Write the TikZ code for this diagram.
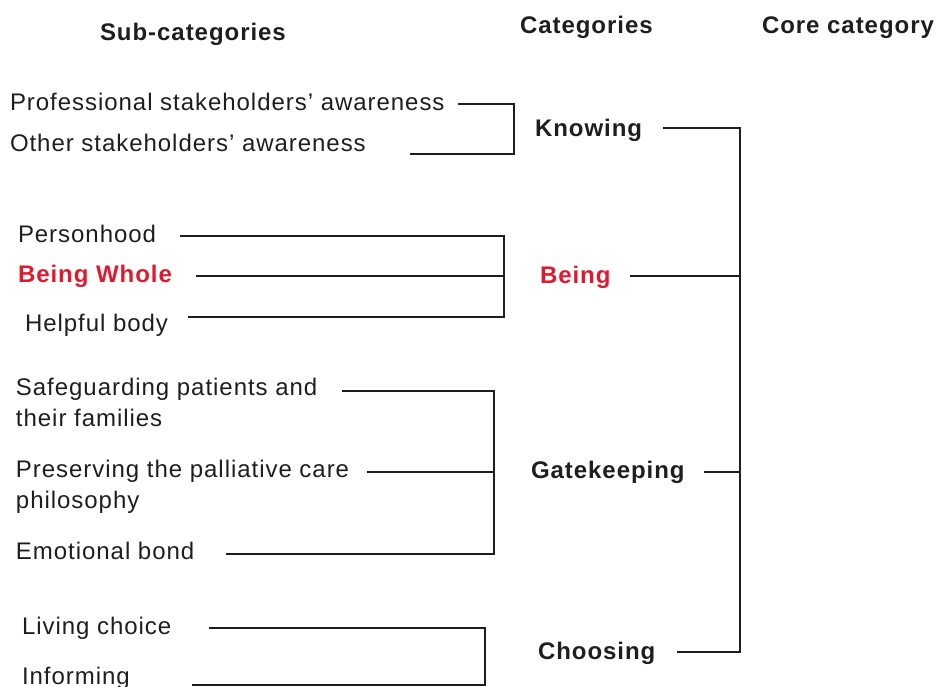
\documentclass[tikz,border=0pt]{standalone}
\usepackage{fontspec}
\setmainfont{Liberation Sans}[LetterSpace=4]
\definecolor{ink}{HTML}{1E1E1E}
\definecolor{redt}{HTML}{E0192F}
\begin{document}
\begin{tikzpicture}[x=1pt,y=-1pt,
  every node/.style={inner sep=0pt,outer sep=0pt,anchor=base west,text=ink,font=\fontsize{24}{31}\selectfont},
  head/.style={font=\fontsize{24}{31}\selectfont\bfseries},
  cat/.style={font=\fontsize{24}{31}\selectfont\bfseries},
  redcat/.style={text=redt},
  multi/.style={align=left},
  conn/.style={draw=ink,line width=1.1pt}]
\useasboundingbox (0,0) rectangle (936,686);
% headers
\node[head] (h1) at (100,40) {Sub-categories};
\node[head] (h2) at (520,33) {Categories};
\node[head] (h3) at (762,33) {Core category};
% sub-categories
\node (s1) at (10,110) {Professional stakeholders’ awareness};
\node (s2) at (10,151) {Other stakeholders’ awareness};
\node (s3) at (18,242) {Personhood};
\node[cat,redcat] (s4) at (18,282) {Being Whole};
\node (s5) at (25,331) {Helpful body};
\node[multi,anchor=north west] (s6) at (16,378) {Safeguarding patients and\\their families};
\node[multi,anchor=north west] (s7) at (16,460) {Preserving the palliative care\\philosophy};
\node (s8) at (16,559) {Emotional bond};
\node (s9) at (22,634) {Living choice};
\node (s10) at (22,684) {Informing};
% categories
\node[cat] (c1) at (535,136) {Knowing};
\node[cat,redcat] (c2) at (540,283) {Being};
\node[cat] (c3) at (531,478) {Gatekeeping};
\node[cat] (c4) at (538,659) {Choosing};
% connector coordinates
\coordinate (a1) at (458,104);
\coordinate (a2) at (410,154);
\coordinate (ka) at (514,0);
\coordinate (b1) at (180,236);
\coordinate (b2) at (196,276);
\coordinate (b3) at (188,317);
\coordinate (kb) at (504,0);
\coordinate (g1) at (342,391);
\coordinate (g2) at (367,472);
\coordinate (g3) at (226,554);
\coordinate (kg) at (494,0);
\coordinate (l1) at (209,628);
\coordinate (l2) at (192,685);
\coordinate (kl) at (485,0);
\coordinate (k1) at (663,128);
\coordinate (k2) at (630,276);
\coordinate (k3) at (704,472);
\coordinate (k4) at (677,652);
\coordinate (kc) at (740,0);
% brackets
\draw[conn] (a1) -- (a1 -| ka) -- (a2 -| ka) -- (a2);
\draw[conn] (b1) -- (b1 -| kb) -- (b3 -| kb) -- (b3);
\draw[conn] (b2) -- (b2 -| kb);
\draw[conn] (g1) -- (g1 -| kg) -- (g3 -| kg) -- (g3);
\draw[conn] (g2) -- (g2 -| kg);
\draw[conn] (l1) -- (l1 -| kl) -- (l2 -| kl) -- (l2);
\draw[conn] (k1) -- (k1 -| kc) -- (k4 -| kc) -- (k4);
\draw[conn] (k2) -- (k2 -| kc);
\draw[conn] (k3) -- (k3 -| kc);
\end{tikzpicture}
\end{document}
